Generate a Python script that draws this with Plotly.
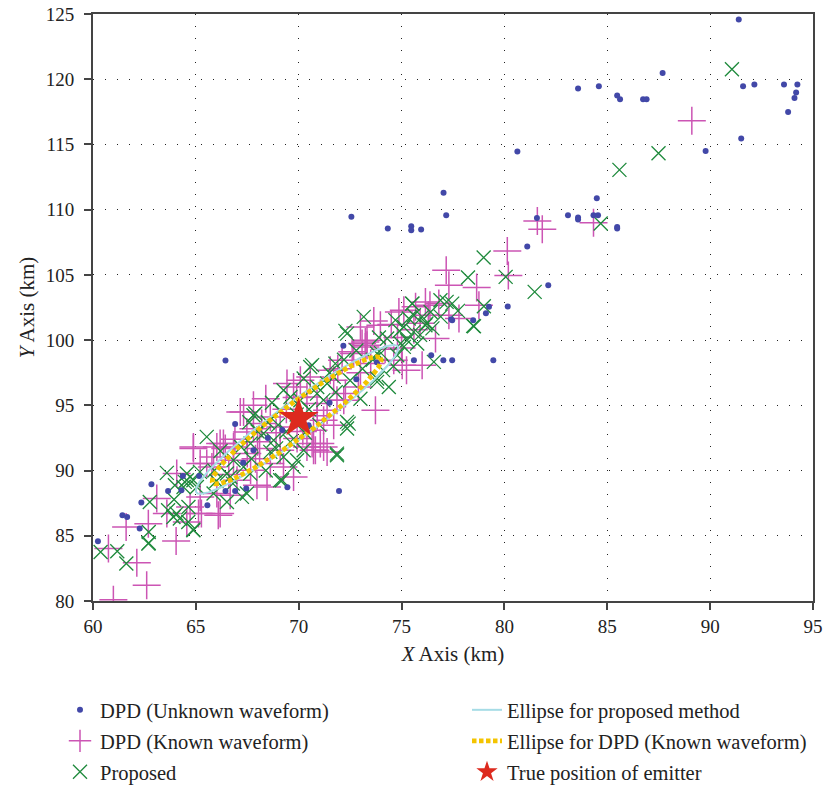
import numpy as np
import plotly.graph_objects as go

# ---- DPD with unknown waveform (x km, y km) ----
unknown_x = [91.39, 87.69, 83.58, 84.59, 85.48, 85.62, 86.74, 86.91, 91.60, 92.15, 93.59, 94.24, 94.18, 94.10,
             93.79, 91.51, 89.78, 80.63, 77.04, 77.17, 75.47, 75.47, 75.95, 72.56, 74.33, 84.49, 83.09, 83.58,
             83.58, 84.33, 84.55, 85.48, 85.48, 81.58, 81.11, 82.13, 80.16, 79.25, 79.10, 78.48, 77.46, 77.41,
             76.44, 77.03, 77.46, 79.46, 75.60, 72.17, 66.44, 66.91, 70.48, 67.80, 71.96, 69.45, 67.45, 66.91,
             66.44, 65.16, 64.37, 65.56, 64.30, 63.65, 62.84, 62.35, 62.27, 61.43, 61.66, 60.24, 68.50, 69.20,
             71.50, 73.80, 67.30, 72.80]
unknown_y = [124.58, 120.47, 119.29, 119.47, 118.76, 118.47, 118.47, 118.47, 119.47, 119.60, 119.60, 119.60,
             118.99, 118.57, 117.48, 115.46, 114.49, 114.46, 111.29, 109.58, 108.73, 108.42, 108.48, 109.45,
             108.56, 110.88, 109.58, 109.40, 109.25, 109.58, 109.58, 108.68, 108.56, 109.37, 107.18, 104.21,
             102.58, 102.55, 102.06, 101.53, 101.53, 101.60, 98.84, 98.46, 98.46, 98.46, 98.46, 99.56, 98.43,
             93.57, 93.47, 91.56, 88.44, 88.72, 88.62, 88.44, 88.44, 89.59, 89.59, 87.34, 88.49, 88.44, 88.95,
             87.55, 85.55, 86.57, 86.44, 84.58, 92.50, 93.10, 95.20, 98.30, 90.60, 97.00]

# ---- DPD with known waveform ----
known_x = [89.11, 81.60, 81.84, 84.33, 80.14, 80.19, 77.17, 77.30, 78.65, 78.76, 76.38, 76.81, 73.97, 73.65,
           73.00, 76.65, 76.00, 75.03, 73.32, 73.24, 74.87, 75.68, 76.16, 77.30, 77.79, 75.24,
           60.99, 62.61, 62.13, 61.61, 60.75, 64.04, 62.69, 63.10, 63.59, 64.07, 64.88, 65.21, 65.13, 64.56,
           66.18, 67.16, 68.46, 69.43, 73.73, 74.62, 75.11, 65.53, 65.86, 66.02, 66.34, 66.83, 70.65, 70.81,
           71.21, 71.70, 72.19, 73.24, 73.32, 72.67, 65.27, 66.09,
           64.88, 66.18, 66.43, 67.32, 67.48, 69.26, 69.75, 65.78, 65.21, 66.02, 66.67, 64.72, 67.97,
           70.72, 70.40, 69.92, 68.62, 69.10, 67.66, 67.00, 66.83,
           73.08, 72.27, 71.86, 71.38, 71.21, 70.72, 71.05, 71.38, 69.75, 70.08, 70.56, 71.53, 72.11,
           72.60, 69.10, 68.62, 70.40, 70.89, 71.70,
           67.80, 68.20, 68.00, 67.50, 68.90, 69.40, 68.40, 67.80, 71.90, 73.00, 74.20, 74.80, 75.60, 76.30,
           74.50, 75.90, 75.00, 72.90, 73.50, 70.20, 70.90, 69.90, 68.10, 66.90, 66.60, 67.90]
known_y = [116.81, 109.14, 108.50, 108.99, 106.84, 104.95, 105.36, 104.21, 104.03, 102.68, 102.68, 102.80,
           101.14, 101.47, 101.01, 100.12, 98.08, 98.08, 99.99, 99.48, 102.16, 102.55, 102.93, 101.91, 101.66,
           97.69,
           80.10, 81.20, 82.94, 85.67, 84.02, 84.60, 85.93, 87.85, 86.70, 89.77, 91.81, 87.98, 86.70, 86.06,
           86.70, 94.49, 88.74, 96.67, 94.62, 98.46, 102.29, 90.54, 91.04, 91.81, 92.07, 91.81, 92.07, 91.56,
           91.81, 93.47, 95.39, 99.86, 99.61, 98.97, 86.70, 86.57,
           91.69, 92.07, 91.69, 94.49, 92.96, 90.28, 89.51, 90.28, 90.54, 88.24, 88.10, 87.21, 88.87,
           91.56, 91.81, 92.45, 90.54, 91.56, 90.02, 89.26, 90.79,
           99.74, 95.90, 95.39, 94.62, 93.86, 93.09, 92.07, 91.43, 96.41, 96.93, 97.18, 97.69, 98.46,
           99.10, 93.34, 94.11, 95.64, 95.14, 96.93,
           93.20, 93.60, 92.20, 91.30, 92.90, 94.70, 95.50, 95.00, 97.80, 97.50, 99.30, 100.20, 100.80, 101.90,
           101.20, 101.30, 99.40, 96.40, 98.20, 93.00, 94.20, 95.60, 91.70, 92.40, 89.70, 90.90]

# ---- proposed method ----
proposed_x = [91.06, 87.49, 85.59, 84.68, 78.99, 80.06, 81.47, 78.23, 79.00, 78.48, 77.74, 77.19, 75.53, 73.16,
              72.27, 76.21, 76.57, 78.52,
              60.37, 61.18, 61.62, 62.71, 62.71, 62.76, 63.65, 63.94, 64.06, 64.22, 64.63, 64.87, 63.98, 64.46,
              65.53, 63.59, 64.56, 67.48, 66.51, 65.86, 64.88, 63.91, 62.69, 67.80, 69.26, 70.56, 69.75, 71.86,
              72.43, 72.35, 72.35, 74.38, 73.81, 74.95, 75.35, 69.26, 68.78, 68.29, 67.32, 66.83, 66.51, 65.05,
              70.08, 70.89, 71.38, 71.70,
              71.86, 70.24, 69.19, 75.51, 76.89, 77.46, 76.41, 76.00, 74.70, 75.11, 75.59, 75.27, 75.11, 74.79,
              75.76, 74.30, 73.81, 76.16, 73.81, 72.35, 70.65, 70.24, 69.60, 69.10, 71.78,
              64.56, 64.88, 66.67, 69.10, 67.24, 64.40, 64.64, 67.64, 68.62, 69.59, 67.66, 69.92, 67.89,
              67.20, 68.00, 68.50, 69.00, 69.40, 70.50, 71.20, 71.80, 72.50, 73.10, 73.60, 74.00, 72.80, 71.50,
              70.90, 69.90, 68.70, 67.60, 66.20, 65.90, 66.80, 67.70, 68.40, 68.90, 70.30, 71.00, 73.00, 74.10,
              74.60, 75.90, 76.50, 76.90, 75.60, 74.90, 73.90, 72.20, 66.00, 65.20]
proposed_y = [120.77, 114.33, 113.05, 108.94, 106.33, 104.85, 103.70, 104.80, 102.60, 101.09, 102.24, 102.93,
              102.80, 101.78, 100.71, 101.27, 98.33, 101.06,
              83.76, 83.81, 82.87, 84.45, 85.29, 87.59, 86.96, 87.78, 86.70, 86.32, 86.06, 85.47, 88.87, 89.13,
              92.58, 89.82, 89.26, 88.24, 87.59, 88.24, 85.42, 86.44, 84.40, 94.24, 96.16, 97.94, 90.28, 91.30,
              93.60, 93.22, 100.50, 96.41, 96.80, 99.74, 101.66, 91.04, 92.32, 92.84, 90.28, 90.79, 89.77, 88.74,
              95.39, 95.90, 96.67, 97.18,
              91.17, 91.56, 89.26, 102.80, 103.06, 102.80, 102.16, 101.78, 101.53, 101.01, 100.63, 99.99, 99.48,
              98.84, 99.74, 100.12, 98.97, 101.14, 97.06, 93.73, 98.08, 97.06, 95.64, 94.62, 98.20,
              89.77, 89.26, 89.51, 89.26, 87.98, 88.74, 87.21, 89.77, 91.43, 92.20, 92.07, 90.79, 94.37,
              91.80, 93.00, 93.70, 93.50, 93.00, 94.70, 95.40, 96.00, 96.90, 97.80, 98.50, 99.00, 99.20, 97.50,
              96.40, 94.30, 95.20, 93.70, 91.50, 90.00, 89.00, 90.90, 90.00, 91.70, 92.90, 93.50, 95.50, 97.70,
              98.00, 100.40, 100.90, 101.80, 101.90, 100.70, 100.20, 98.50, 89.20, 89.90]

# ---- emitter and error ellipses (center, semi-axes, tilt in degrees) ----
emitter_x = [70.0]
emitter_y = [94.0]
ell_proposed = dict(cx=69.92, cy=93.92, a=7.45, b=1.12, angle=49.4)
ell_dpd = dict(cx=69.90, cy=93.85, a=6.30, b=1.02, angle=50.1)

x_ticks = [60, 65, 70, 75, 80, 85, 90, 95]
y_ticks = [80, 85, 90, 95, 100, 105, 110, 115, 120, 125]

FONT = "Liberation Serif"
TXT = "#222222"


def ellipse(p, n=360):
    t = np.linspace(0, 2 * np.pi, n)
    th = np.deg2rad(p["angle"])
    u, v = p["a"] * np.cos(t), p["b"] * np.sin(t)
    return p["cx"] + u * np.cos(th) - v * np.sin(th), p["cy"] + u * np.sin(th) + v * np.cos(th)


ex1, ey1 = ellipse(ell_proposed)
ex2, ey2 = ellipse(ell_dpd)

KNOWN_C = "#cc55b4"
PROP_C = "#1e8a3c"

fig = go.Figure()
fig.add_trace(go.Scatter(x=known_x, y=known_y, mode="markers", name="DPD (Known waveform)",
                         marker=dict(symbol="cross-thin-open", size=20, color=KNOWN_C,
                                     line=dict(color=KNOWN_C, width=1.5)),
                         legend="legend2"))
fig.add_trace(go.Scatter(x=proposed_x, y=proposed_y, mode="markers", name="Proposed",
                         marker=dict(symbol="x-thin-open", size=14, color=PROP_C,
                                     line=dict(color=PROP_C, width=1.3)),
                         legend="legend3"))
fig.add_trace(go.Scatter(x=unknown_x, y=unknown_y, mode="markers", name="DPD (Unknown waveform)",
                         marker=dict(symbol="circle", size=6, color="#4248a8"),
                         legend="legend"))
fig.add_trace(go.Scatter(x=ex1, y=ey1, mode="lines", name="Ellipse for proposed method",
                         line=dict(color="#a6dce6", width=2), legend="legend4"))
fig.add_trace(go.Scatter(x=ex2, y=ey2, mode="lines", name="Ellipse for DPD (Known waveform)",
                         line=dict(color="#f4c400", width=4.8, dash="4.5px,2.5px"), legend="legend5"))
fig.add_trace(go.Scatter(x=emitter_x, y=emitter_y, mode="markers", name="True position of emitter",
                         marker=dict(symbol="star", size=30, color="#dd2a1e", line=dict(width=0)),
                         legend="legend6"))

grid = dict(showgrid=True, gridcolor="#222222", griddash="1.3px,10.7px", gridwidth=1.3)
axis_common = dict(showline=True, linecolor="#444444", linewidth=2, mirror=True,
                   ticks="outside", ticklen=7, tickwidth=1.5, tickcolor="#444444",
                   tickfont=dict(family=FONT, size=19, color=TXT), zeroline=False, **grid)

fig.update_xaxes(range=[60, 95], tickvals=x_ticks, title=dict(text="<i>X</i> Axis (km)", standoff=11,
                 font=dict(family=FONT, size=21, color=TXT)), **axis_common)
fig.update_yaxes(range=[80, 125], tickvals=y_ticks, ticklabelstandoff=6,
                 title=dict(text="<i>Y</i> Axis (km)", standoff=5,
                            font=dict(family=FONT, size=21, color=TXT)), **axis_common)


def legend_at(px, py):
    return dict(orientation="h", xref="container", yref="container", x=px / 825, y=1 - py / 791,
                xanchor="left", yanchor="middle", font=dict(family=FONT, size=20.5, color=TXT),
                bgcolor="rgba(0,0,0,0)", borderwidth=0)


fig.update_layout(
    width=825, height=791,
    margin=dict(l=93, r=12, t=14, b=190, autoexpand=False),
    paper_bgcolor="white", plot_bgcolor="white",
    showlegend=True,
    legend=legend_at(60, 710),
    legend2=legend_at(60, 741),
    legend3=legend_at(60, 772),
    legend4=legend_at(467, 710),
    legend5=legend_at(467, 741),
    legend6=legend_at(467, 772),
)

fig.write_html("out.html")
